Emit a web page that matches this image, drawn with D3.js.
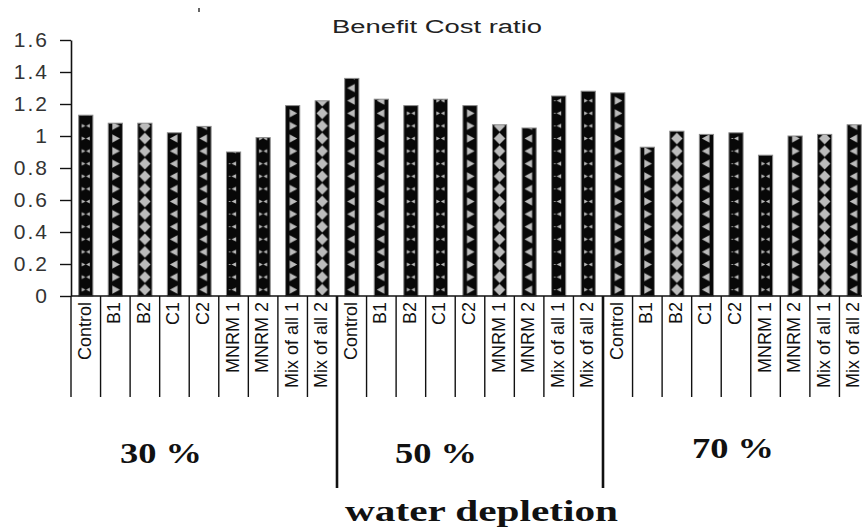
<!DOCTYPE html>
<html>
<head>
<meta charset="utf-8">
<script src="https://cdn.jsdelivr.net/npm/d3@7"></script>
<style>
  body { margin: 0; background: #fff; }
  svg { display: block; }
</style>
</head>
<body>
<div id="chart"></div>
<script>
// data
var treatments = ['Control', 'B1', 'B2', 'C1', 'C2', 'MNRM 1', 'MNRM  2', 'Mix of all 1', 'Mix of all  2'];
var depletions = ['30 %', '50 %', '70 %'];
var ratio30 = [1.13, 1.08, 1.08, 1.02, 1.06, 0.90, 0.99, 1.19, 1.22];
var ratio50 = [1.36, 1.23, 1.19, 1.23, 1.19, 1.07, 1.05, 1.25, 1.28];
var ratio70 = [1.27, 0.93, 1.03, 1.01, 1.02, 0.88, 1.00, 1.01, 1.07];
var yTicks = [0, 0.2, 0.4, 0.6, 0.8, 1, 1.2, 1.4, 1.6];

// fill motif for each bar (as it looks in the picture)
var motifs = ['bow', 'right', 'diamond', 'left', 'left', 'leftSmall', 'bow', 'right', 'diamond',
              'left', 'left', 'bow', 'bow', 'right', 'diamond', 'left', 'leftSmall', 'bow',
              'right', 'right', 'diamond', 'left', 'leftSmall', 'bow', 'right', 'diamond', 'left'];

var W = 862, H = 530;
var left = 71, right = 869, baseY = 296, topY = 40;

var bars = [];
[ratio30, ratio50, ratio70].forEach(function (vals, g) {
  vals.forEach(function (v, i) {
    bars.push({ group: depletions[g], name: treatments[i], value: v, idx: g * treatments.length + i });
  });
});

var svg = d3.select('#chart').append('svg').attr('width', W).attr('height', H);

var x = d3.scaleBand()
  .domain(d3.range(bars.length))
  .range([left, right])
  .paddingInner(0.52)
  .paddingOuter(0.26);
var step = x.step();
var edge = function (i) { return left + i * step; };

var y = d3.scaleLinear().domain([0, 1.6]).range([baseY, topY]);

// patterns, one per bar so the motif lines up with the bar
var shapes = {
  bow: 'M3,4.3 L6.6,6.3 L3,8.3 Z M11,4.3 L7.4,6.3 L11,8.3 Z',
  right: 'M4,2.3 L11.5,6.3 L4,10.3 Z',
  left: 'M10,2.3 L2.5,6.3 L10,10.3 Z',
  leftSmall: 'M9.5,4 L5,6.3 L9.5,8.6 Z M2.5,5.8 h1.5 v1 h-1.5 Z',
  diamond: 'M7,0.6 L12.6,6.3 L7,12 L1.4,6.3 Z'
};
var defs = svg.append('defs');
var pat = defs.selectAll('pattern')
  .data(bars)
  .enter()
  .append('pattern')
  .attr('id', function (d) { return 'p' + d.idx; })
  .attr('patternUnits', 'userSpaceOnUse')
  .attr('x', function (d) { return x(d.idx); })
  .attr('y', baseY)
  .attr('width', x.bandwidth())
  .attr('height', 12.6);
pat.append('rect')
  .attr('width', x.bandwidth())
  .attr('height', 12.6)
  .attr('fill', '#080808');
pat.append('path')
  .attr('d', function (d) { return shapes[motifs[d.idx]]; })
  .attr('transform', 'scale(' + (x.bandwidth() / 14) + ',1)')
  .attr('fill', '#bcbcbc');

// bars
svg.append('g')
  .selectAll('rect')
  .data(bars)
  .enter()
  .append('rect')
  .attr('x', function (d) { return x(d.idx); })
  .attr('y', function (d) { return y(d.value); })
  .attr('width', x.bandwidth())
  .attr('height', function (d) { return baseY - y(d.value); })
  .attr('fill', function (d) { return 'url(#p' + d.idx + ')'; })
  .attr('stroke', '#8a8a8a')
  .attr('stroke-width', 1);

// y axis
var yAxis = d3.axisLeft(y)
  .tickValues(yTicks)
  .tickSize(11)
  .tickSizeOuter(0)
  .tickPadding(11)
  .tickFormat(function (d) { return String(+d.toFixed(1)); });
var ya = svg.append('g')
  .attr('transform', 'translate(' + left + ',0)')
  .call(yAxis);
ya.select('.domain').attr('stroke', '#111').attr('stroke-width', 1.6);
ya.selectAll('.tick line').attr('stroke', '#111').attr('stroke-width', 1.4);
ya.selectAll('.tick text')
  .attr('fill', '#333')
  .style('font-family', '"Liberation Sans", Arial, sans-serif')
  .style('font-size', '21px')
  .style('letter-spacing', '2px');

// baseline
svg.append('line')
  .attr('x1', left).attr('x2', W)
  .attr('y1', baseY).attr('y2', baseY)
  .attr('stroke', '#111').attr('stroke-width', 1.6);

// category separators under the axis
svg.append('g')
  .selectAll('line')
  .data(d3.range(bars.length))
  .enter()
  .append('line')
  .attr('x1', edge).attr('x2', edge)
  .attr('y1', baseY)
  .attr('y2', function (i) { return (i % 9 === 0 && i > 0) ? 488 : 397; })
  .attr('stroke', '#111')
  .attr('stroke-width', function (i) { return (i % 9 === 0 && i > 0) ? 2.6 : 1.4; });

// category labels
svg.append('g')
  .selectAll('text')
  .data(bars)
  .enter()
  .append('text')
  .attr('transform', function (d) {
    return 'translate(' + (x(d.idx) + x.bandwidth() / 2 + 5) + ',302) rotate(-90)';
  })
  .attr('text-anchor', 'end')
  .style('font-family', '"Liberation Sans", Arial, sans-serif')
  .style('font-size', '18px')
  .attr('fill', '#111')
  .text(function (d) { return d.name; });

// title
svg.append('text')
  .attr('x', 332).attr('y', 33)
  .attr('textLength', 210)
  .attr('lengthAdjust', 'spacingAndGlyphs')
  .style('font-family', '"Liberation Sans", Arial, sans-serif')
  .style('font-size', '18px')
  .attr('fill', '#222')
  .text('Benefit Cost ratio');

// stray mark above the plot
svg.append('line')
  .attr('x1', 199).attr('x2', 199)
  .attr('y1', 8).attr('y2', 12)
  .attr('stroke', '#333').attr('stroke-width', 1.5);

// depletion labels
var groupX = [120, 395, 692];
var groupY = [463, 463, 458];
svg.append('g')
  .selectAll('text')
  .data(depletions)
  .enter()
  .append('text')
  .attr('x', function (d, i) { return groupX[i]; })
  .attr('y', function (d, i) { return groupY[i]; })
  .attr('textLength', 82)
  .attr('lengthAdjust', 'spacingAndGlyphs')
  .style('font-family', '"Liberation Serif", "DejaVu Serif", serif')
  .style('font-weight', 'bold')
  .style('font-size', '29px')
  .attr('fill', '#111')
  .text(function (d) { return d; });

svg.append('text')
  .attr('x', 345).attr('y', 521)
  .attr('textLength', 273)
  .attr('lengthAdjust', 'spacingAndGlyphs')
  .style('font-family', '"Liberation Serif", "DejaVu Serif", serif')
  .style('font-weight', 'bold')
  .style('font-size', '30px')
  .attr('fill', '#111')
  .text('water depletion');
</script>
</body>
</html>
